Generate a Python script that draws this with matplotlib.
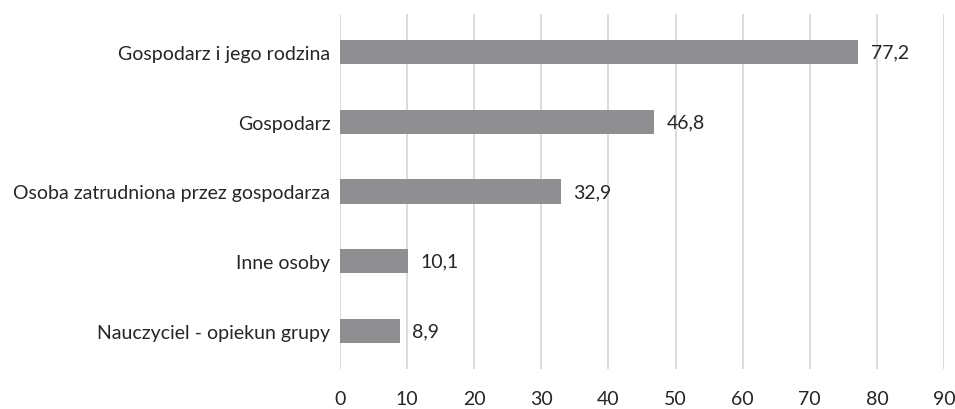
import matplotlib
matplotlib.use('Agg')
import matplotlib.pyplot as plt
import numpy as np

categories = [
    'Gospodarz i jego rodzina',
    'Gospodarz',
    'Osoba zatrudniona przez gospodarza',
    'Inne osoby',
    'Nauczyciel - opiekun grupy',
]
values = [77.2, 46.8, 32.9, 10.1, 8.9]
x_ticks = list(range(0, 100, 10))

plt.rcParams['font.family'] = ['Lato', 'DejaVu Sans']

figure = plt.figure(figsize=(9.55, 4.1), dpi=100)
axis = figure.add_axes([0.356, 0.0976, 0.6325, 0.866])

positions = np.arange(len(categories))
axis.barh(positions, values, height=0.35, color='#8f8f91', zorder=3)

for pos, value in zip(positions, values):
    label = f'{value:.1f}'.replace('.', ',')
    axis.annotate(label, (value, pos), xytext=(9, 0), textcoords='offset points',
                  va='center', ha='left', fontsize=14, color='#262626')

axis.set_yticks(positions)
axis.set_yticklabels(categories, fontsize=14, color='#262626')
axis.set_ylim(len(categories) - 0.45, -0.55)
axis.set_xlim(0, 90)
axis.set_xticks(x_ticks)
axis.set_xticklabels([str(t) for t in x_ticks], fontsize=14, color='#262626')
axis.tick_params(axis='both', length=0)
axis.tick_params(axis='x', pad=15)
axis.tick_params(axis='y', pad=7)

axis.grid(True, axis='x', color='#d9d9d9', linewidth=1.3, zorder=0)
for spine in axis.spines.values():
    spine.set_visible(False)

plt.savefig('out.png', dpi=100)
plt.close(figure)
